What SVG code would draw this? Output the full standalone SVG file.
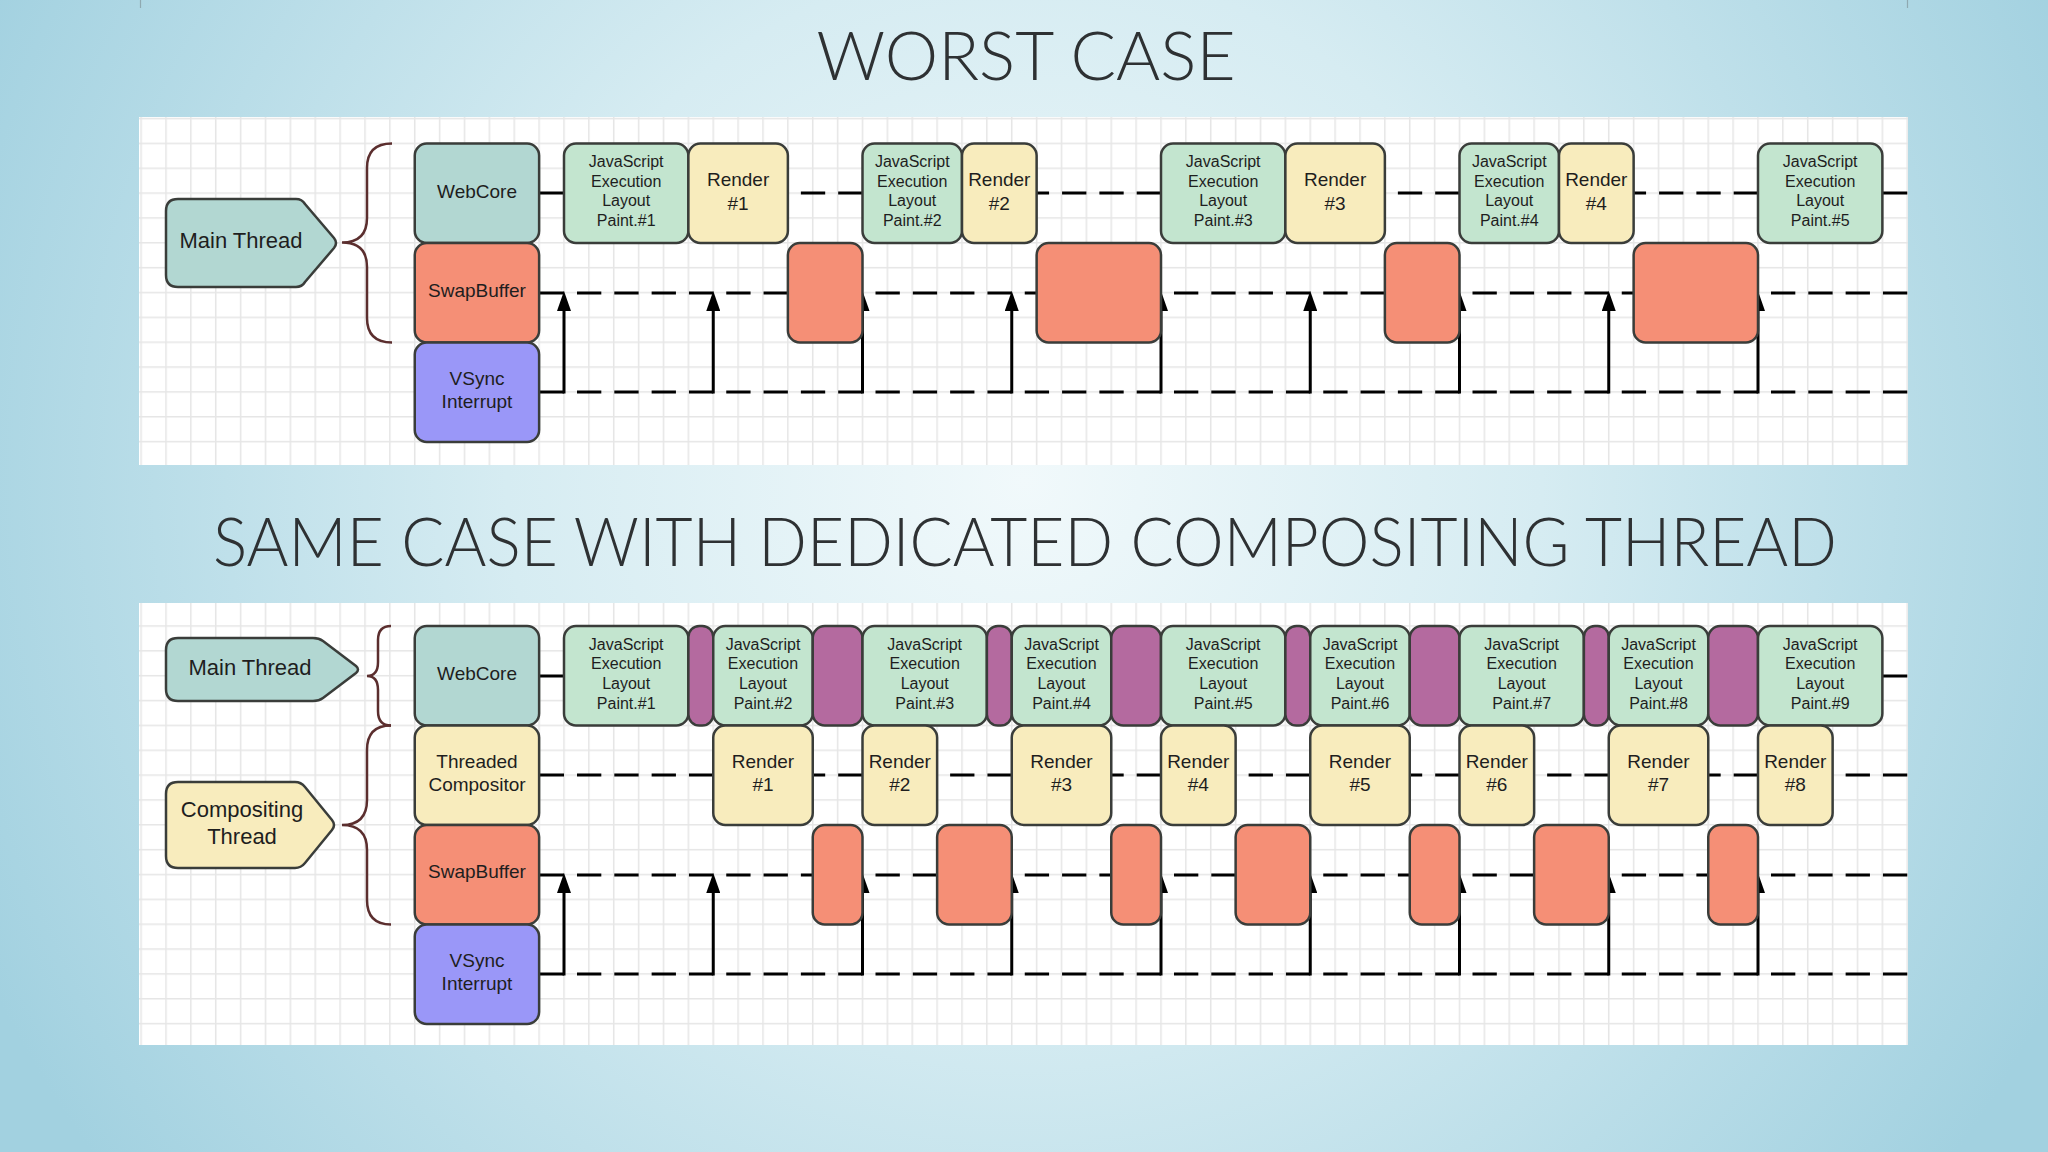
<svg xmlns="http://www.w3.org/2000/svg" width="2048" height="1152" viewBox="0 0 2048 1152">
<defs>
<radialGradient id="bg" gradientUnits="userSpaceOnUse" cx="1024" cy="480" r="1150">
<stop offset="0" stop-color="#f1f9fb"/>
<stop offset="0.45" stop-color="#d6ecf2"/>
<stop offset="1" stop-color="#a2d1e0"/>
</radialGradient>
<pattern id="gridTop" patternUnits="userSpaceOnUse" x="140.35" y="117.8" width="24.875" height="24.85">
<rect x="0" y="0" width="1.5" height="24.85" fill="#e6e6e6"/>
<rect x="0" y="0" width="24.875" height="1.5" fill="#e6e6e6"/>
</pattern>
<pattern id="gridBot" patternUnits="userSpaceOnUse" x="140.35" y="625.25" width="24.875" height="24.85">
<rect x="0" y="0" width="1.5" height="24.85" fill="#e6e6e6"/>
<rect x="0" y="0" width="24.875" height="1.5" fill="#e6e6e6"/>
</pattern>
<marker id="ah" markerUnits="userSpaceOnUse" markerWidth="20" markerHeight="14" refX="0" refY="7" orient="auto" viewBox="0 0 20 14">
<path d="M0,0 L20,7 L0,14 Z" fill="#000"/>
</marker>
<style>
.title{font-family:"Lato","Open Sans","Liberation Sans",sans-serif;font-weight:300;font-size:67px;fill:#2e3133;text-anchor:middle}
.lbl{font-family:"Liberation Sans",Arial,sans-serif;fill:#1e1e1e;text-anchor:middle}
.s16{font-size:16px}
.s19{font-size:19px}
.s22{font-size:22px}
.box{stroke:#3a3d3a;stroke-width:2.5}
.teal{fill:#b2d7d2}
.mint{fill:#c3e5cf}
.cream{fill:#f8ecbd}
.salmon{fill:#f58f76}
.violet{fill:#9a97f8}
.plum{fill:#b46a9f}
.brace{fill:none;stroke:#5b2e2e;stroke-width:2.5}
.dash{fill:none;stroke:#000;stroke-width:3;stroke-dasharray:24.3125 13;stroke-dashoffset:24.3125}
.solid{fill:none;stroke:#000;stroke-width:3}
.arrow{fill:none;stroke:#000;stroke-width:3;marker-end:url(#ah)}
</style>
</defs>

<rect x="0" y="0" width="2048" height="1152" fill="url(#bg)"/>
<path d="M140.5,0 V8 M1907.5,0 V8" stroke="#8fa9b1" stroke-width="1.2" fill="none"/>

<text class="title" x="1026" y="80" textLength="419" lengthAdjust="spacingAndGlyphs">WORST CASE</text>
<text class="title" x="1025" y="566" textLength="1624" lengthAdjust="spacingAndGlyphs">SAME CASE WITH DEDICATED COMPOSITING THREAD</text>

<!-- panels -->
<rect x="139" y="117" width="1769" height="348" fill="#fff"/>
<rect x="139" y="117" width="1769" height="348" fill="url(#gridTop)"/>
<rect x="139" y="603" width="1769" height="442" fill="#fff"/>
<rect x="139" y="603" width="1769" height="442" fill="url(#gridBot)"/>

<!-- ================= connectors ================= -->
<g id="connectors">
<!-- top panel -->
<path class="solid" d="M539,193 H564"/>
<path class="dash" d="M564,193 H1908"/>
<path class="solid" d="M539,293 H564"/>
<path class="dash" d="M564,293 H1908"/>
<path class="solid" d="M539,392 H564"/>
<path class="dash" d="M564,392 H1908"/>
<path class="arrow" d="M564,393.5 V311"/>
<path class="arrow" d="M713.25,393.5 V311"/>
<path class="arrow" d="M862.5,393.5 V311"/>
<path class="arrow" d="M1011.75,393.5 V311"/>
<path class="arrow" d="M1161,393.5 V311"/>
<path class="arrow" d="M1310.25,393.5 V311"/>
<path class="arrow" d="M1459.5,393.5 V311"/>
<path class="arrow" d="M1608.75,393.5 V311"/>
<path class="arrow" d="M1758,393.5 V311"/>
<!-- bottom panel -->
<path class="solid" d="M539,676 H564"/>
<path class="dash" d="M564,676 H1908"/>
<path class="solid" d="M539,775 H564"/>
<path class="dash" d="M564,775 H1908"/>
<path class="solid" d="M539,875 H564"/>
<path class="dash" d="M564,875 H1908"/>
<path class="solid" d="M539,974 H564"/>
<path class="dash" d="M564,974 H1908"/>
<path class="arrow" d="M564,975.5 V893"/>
<path class="arrow" d="M713.25,975.5 V893"/>
<path class="arrow" d="M862.5,975.5 V893"/>
<path class="arrow" d="M1011.75,975.5 V893"/>
<path class="arrow" d="M1161,975.5 V893"/>
<path class="arrow" d="M1310.25,975.5 V893"/>
<path class="arrow" d="M1459.5,975.5 V893"/>
<path class="arrow" d="M1608.75,975.5 V893"/>
<path class="arrow" d="M1758,975.5 V893"/>
</g>

<!-- braces -->
<path class="brace" d="M392,143.5 Q367,143.5 367,168 V218 Q367,242.5 342,242.5 Q367,242.5 367,267 V318 Q367,342.5 392,342.5"/>
<path class="brace" d="M391,626 Q378,626 378,640 V662 Q378,676 367,676 Q378,676 378,690 V711 Q378,725.5 391,725.5"/>
<path class="brace" d="M391,725.5 Q367,725.5 367,750 V800 Q367,825 342,825 Q367,825 367,850 V900 Q367,924.5 391,924.5"/>

<!-- ================= TOP PANEL NODES ================= -->
<g id="top-main-thread">
<path class="box teal" d="M178,199 H296 Q302,199 305,204 L334,238 Q338,243 334,248 L305,282 Q302,287 296,287 H178 Q166,287 166,275 V211 Q166,199 178,199 Z"/>
<text class="lbl s22" x="241" y="248">Main Thread</text>
</g>
<g id="top-webcore">
<rect class="box teal" x="414.75" y="143.5" width="124.375" height="99.5" rx="12"/>
<text class="lbl s19" x="477" y="197.5">WebCore</text>
</g>
<g id="top-swapbuffer">
<rect class="box salmon" x="414.75" y="243" width="124.375" height="99.5" rx="12"/>
<text class="lbl s19" x="477" y="297">SwapBuffer</text>
</g>
<g id="top-vsync">
<rect class="box violet" x="414.75" y="342.5" width="124.375" height="99.5" rx="12"/>
<text class="lbl s19" x="477" y="385">VSync</text>
<text class="lbl s19" x="477" y="408">Interrupt</text>
</g>

<g id="top-js1">
<rect class="box mint" x="564" y="143.5" width="124.375" height="99.5" rx="12"/>
<text class="lbl s16" x="626.2" y="166.8">JavaScript</text>
<text class="lbl s16" x="626.2" y="186.5">Execution</text>
<text class="lbl s16" x="626.2" y="206.2">Layout</text>
<text class="lbl s16" x="626.2" y="225.9">Paint.#1</text>
</g>
<g id="top-render1">
<rect class="box cream" x="688.375" y="143.5" width="99.5" height="99.5" rx="12"/>
<text class="lbl s19" x="738.1" y="186">Render</text>
<text class="lbl s19" x="738.1" y="209.5">#1</text>
</g>
<g id="top-swap1"><rect class="box salmon" x="787.875" y="243" width="74.625" height="99.5" rx="12"/></g>
<g id="top-js2">
<rect class="box mint" x="862.5" y="143.5" width="99.5" height="99.5" rx="12"/>
<text class="lbl s16" x="912.25" y="166.8">JavaScript</text>
<text class="lbl s16" x="912.25" y="186.5">Execution</text>
<text class="lbl s16" x="912.25" y="206.2">Layout</text>
<text class="lbl s16" x="912.25" y="225.9">Paint.#2</text>
</g>
<g id="top-render2">
<rect class="box cream" x="962" y="143.5" width="74.625" height="99.5" rx="12"/>
<text class="lbl s19" x="999.3" y="186">Render</text>
<text class="lbl s19" x="999.3" y="209.5">#2</text>
</g>
<g id="top-swap2"><rect class="box salmon" x="1036.625" y="243" width="124.375" height="99.5" rx="12"/></g>
<g id="top-js3">
<rect class="box mint" x="1161" y="143.5" width="124.375" height="99.5" rx="12"/>
<text class="lbl s16" x="1223.2" y="166.8">JavaScript</text>
<text class="lbl s16" x="1223.2" y="186.5">Execution</text>
<text class="lbl s16" x="1223.2" y="206.2">Layout</text>
<text class="lbl s16" x="1223.2" y="225.9">Paint.#3</text>
</g>
<g id="top-render3">
<rect class="box cream" x="1285.375" y="143.5" width="99.5" height="99.5" rx="12"/>
<text class="lbl s19" x="1335.1" y="186">Render</text>
<text class="lbl s19" x="1335.1" y="209.5">#3</text>
</g>
<g id="top-swap3"><rect class="box salmon" x="1384.875" y="243" width="74.625" height="99.5" rx="12"/></g>
<g id="top-js4">
<rect class="box mint" x="1459.5" y="143.5" width="99.5" height="99.5" rx="12"/>
<text class="lbl s16" x="1509.25" y="166.8">JavaScript</text>
<text class="lbl s16" x="1509.25" y="186.5">Execution</text>
<text class="lbl s16" x="1509.25" y="206.2">Layout</text>
<text class="lbl s16" x="1509.25" y="225.9">Paint.#4</text>
</g>
<g id="top-render4">
<rect class="box cream" x="1559" y="143.5" width="74.625" height="99.5" rx="12"/>
<text class="lbl s19" x="1596.3" y="186">Render</text>
<text class="lbl s19" x="1596.3" y="209.5">#4</text>
</g>
<g id="top-swap4"><rect class="box salmon" x="1633.625" y="243" width="124.375" height="99.5" rx="12"/></g>
<g id="top-js5">
<rect class="box mint" x="1758" y="143.5" width="124.375" height="99.5" rx="12"/>
<text class="lbl s16" x="1820.2" y="166.8">JavaScript</text>
<text class="lbl s16" x="1820.2" y="186.5">Execution</text>
<text class="lbl s16" x="1820.2" y="206.2">Layout</text>
<text class="lbl s16" x="1820.2" y="225.9">Paint.#5</text>
</g>

<!-- ================= BOTTOM PANEL NODES ================= -->
<g id="bot-main-thread">
<path class="box teal" d="M178,638 H313 Q319,638 323,641 L356,666 Q360,669.5 356,673 L323,698 Q319,701 313,701 H178 Q166,701 166,689 V650 Q166,638 178,638 Z"/>
<text class="lbl s22" x="250" y="675">Main Thread</text>
</g>
<g id="bot-compositing-thread">
<path class="box cream" d="M178,782 H295 Q301,782 305,787 L332,820 Q336,825 332,830 L305,863 Q301,868 295,868 H178 Q166,868 166,856 V794 Q166,782 178,782 Z"/>
<text class="lbl s22" x="242" y="817">Compositing</text>
<text class="lbl s22" x="242" y="844">Thread</text>
</g>
<g id="bot-webcore">
<rect class="box teal" x="414.75" y="626" width="124.375" height="99.5" rx="12"/>
<text class="lbl s19" x="477" y="680">WebCore</text>
</g>
<g id="bot-threaded-compositor">
<rect class="box cream" x="414.75" y="725.5" width="124.375" height="99.5" rx="12"/>
<text class="lbl s19" x="477" y="768">Threaded</text>
<text class="lbl s19" x="477" y="791">Compositor</text>
</g>
<g id="bot-swapbuffer">
<rect class="box salmon" x="414.75" y="825" width="124.375" height="99.5" rx="12"/>
<text class="lbl s19" x="477" y="878">SwapBuffer</text>
</g>
<g id="bot-vsync">
<rect class="box violet" x="414.75" y="924.5" width="124.375" height="99.5" rx="12"/>
<text class="lbl s19" x="477" y="967">VSync</text>
<text class="lbl s19" x="477" y="990">Interrupt</text>
</g>

<!-- main thread row -->
<g id="bot-js1">
<rect class="box mint" x="564" y="626" width="124.375" height="99.5" rx="12"/>
<text class="lbl s16" x="626.2" y="649.5">JavaScript</text>
<text class="lbl s16" x="626.2" y="669.2">Execution</text>
<text class="lbl s16" x="626.2" y="688.9">Layout</text>
<text class="lbl s16" x="626.2" y="708.6">Paint.#1</text>
</g>
<g id="bot-idle1"><rect class="box plum" x="688.375" y="626" width="24.875" height="99.5" rx="11"/></g>
<g id="bot-js2">
<rect class="box mint" x="713.25" y="626" width="99.5" height="99.5" rx="12"/>
<text class="lbl s16" x="763" y="649.5">JavaScript</text>
<text class="lbl s16" x="763" y="669.2">Execution</text>
<text class="lbl s16" x="763" y="688.9">Layout</text>
<text class="lbl s16" x="763" y="708.6">Paint.#2</text>
</g>
<g id="bot-idle2"><rect class="box plum" x="812.75" y="626" width="49.75" height="99.5" rx="12"/></g>
<g id="bot-js3">
<rect class="box mint" x="862.5" y="626" width="124.375" height="99.5" rx="12"/>
<text class="lbl s16" x="924.7" y="649.5">JavaScript</text>
<text class="lbl s16" x="924.7" y="669.2">Execution</text>
<text class="lbl s16" x="924.7" y="688.9">Layout</text>
<text class="lbl s16" x="924.7" y="708.6">Paint.#3</text>
</g>
<g id="bot-idle3"><rect class="box plum" x="986.875" y="626" width="24.875" height="99.5" rx="11"/></g>
<g id="bot-js4">
<rect class="box mint" x="1011.75" y="626" width="99.5" height="99.5" rx="12"/>
<text class="lbl s16" x="1061.5" y="649.5">JavaScript</text>
<text class="lbl s16" x="1061.5" y="669.2">Execution</text>
<text class="lbl s16" x="1061.5" y="688.9">Layout</text>
<text class="lbl s16" x="1061.5" y="708.6">Paint.#4</text>
</g>
<g id="bot-idle4"><rect class="box plum" x="1111.25" y="626" width="49.75" height="99.5" rx="12"/></g>
<g id="bot-js5">
<rect class="box mint" x="1161" y="626" width="124.375" height="99.5" rx="12"/>
<text class="lbl s16" x="1223.2" y="649.5">JavaScript</text>
<text class="lbl s16" x="1223.2" y="669.2">Execution</text>
<text class="lbl s16" x="1223.2" y="688.9">Layout</text>
<text class="lbl s16" x="1223.2" y="708.6">Paint.#5</text>
</g>
<g id="bot-idle5"><rect class="box plum" x="1285.375" y="626" width="24.875" height="99.5" rx="11"/></g>
<g id="bot-js6">
<rect class="box mint" x="1310.25" y="626" width="99.5" height="99.5" rx="12"/>
<text class="lbl s16" x="1360" y="649.5">JavaScript</text>
<text class="lbl s16" x="1360" y="669.2">Execution</text>
<text class="lbl s16" x="1360" y="688.9">Layout</text>
<text class="lbl s16" x="1360" y="708.6">Paint.#6</text>
</g>
<g id="bot-idle6"><rect class="box plum" x="1409.75" y="626" width="49.75" height="99.5" rx="12"/></g>
<g id="bot-js7">
<rect class="box mint" x="1459.5" y="626" width="124.375" height="99.5" rx="12"/>
<text class="lbl s16" x="1521.7" y="649.5">JavaScript</text>
<text class="lbl s16" x="1521.7" y="669.2">Execution</text>
<text class="lbl s16" x="1521.7" y="688.9">Layout</text>
<text class="lbl s16" x="1521.7" y="708.6">Paint.#7</text>
</g>
<g id="bot-idle7"><rect class="box plum" x="1583.875" y="626" width="24.875" height="99.5" rx="11"/></g>
<g id="bot-js8">
<rect class="box mint" x="1608.75" y="626" width="99.5" height="99.5" rx="12"/>
<text class="lbl s16" x="1658.5" y="649.5">JavaScript</text>
<text class="lbl s16" x="1658.5" y="669.2">Execution</text>
<text class="lbl s16" x="1658.5" y="688.9">Layout</text>
<text class="lbl s16" x="1658.5" y="708.6">Paint.#8</text>
</g>
<g id="bot-idle8"><rect class="box plum" x="1708.25" y="626" width="49.75" height="99.5" rx="12"/></g>
<g id="bot-js9">
<rect class="box mint" x="1758" y="626" width="124.375" height="99.5" rx="12"/>
<text class="lbl s16" x="1820.2" y="649.5">JavaScript</text>
<text class="lbl s16" x="1820.2" y="669.2">Execution</text>
<text class="lbl s16" x="1820.2" y="688.9">Layout</text>
<text class="lbl s16" x="1820.2" y="708.6">Paint.#9</text>
</g>

<!-- compositor row -->
<g id="bot-render1">
<rect class="box cream" x="713.25" y="725.5" width="99.5" height="99.5" rx="12"/>
<text class="lbl s19" x="763" y="767.5">Render</text>
<text class="lbl s19" x="763" y="791">#1</text>
</g>
<g id="bot-render2">
<rect class="box cream" x="862.5" y="725.5" width="74.625" height="99.5" rx="12"/>
<text class="lbl s19" x="899.8" y="767.5">Render</text>
<text class="lbl s19" x="899.8" y="791">#2</text>
</g>
<g id="bot-render3">
<rect class="box cream" x="1011.75" y="725.5" width="99.5" height="99.5" rx="12"/>
<text class="lbl s19" x="1061.5" y="767.5">Render</text>
<text class="lbl s19" x="1061.5" y="791">#3</text>
</g>
<g id="bot-render4">
<rect class="box cream" x="1161" y="725.5" width="74.625" height="99.5" rx="12"/>
<text class="lbl s19" x="1198.3" y="767.5">Render</text>
<text class="lbl s19" x="1198.3" y="791">#4</text>
</g>
<g id="bot-render5">
<rect class="box cream" x="1310.25" y="725.5" width="99.5" height="99.5" rx="12"/>
<text class="lbl s19" x="1360" y="767.5">Render</text>
<text class="lbl s19" x="1360" y="791">#5</text>
</g>
<g id="bot-render6">
<rect class="box cream" x="1459.5" y="725.5" width="74.625" height="99.5" rx="12"/>
<text class="lbl s19" x="1496.8" y="767.5">Render</text>
<text class="lbl s19" x="1496.8" y="791">#6</text>
</g>
<g id="bot-render7">
<rect class="box cream" x="1608.75" y="725.5" width="99.5" height="99.5" rx="12"/>
<text class="lbl s19" x="1658.5" y="767.5">Render</text>
<text class="lbl s19" x="1658.5" y="791">#7</text>
</g>
<g id="bot-render8">
<rect class="box cream" x="1758" y="725.5" width="74.625" height="99.5" rx="12"/>
<text class="lbl s19" x="1795.3" y="767.5">Render</text>
<text class="lbl s19" x="1795.3" y="791">#8</text>
</g>

<!-- swap row -->
<g id="bot-swap1"><rect class="box salmon" x="812.75" y="825" width="49.75" height="99.5" rx="12"/></g>
<g id="bot-swap2"><rect class="box salmon" x="937.125" y="825" width="74.625" height="99.5" rx="12"/></g>
<g id="bot-swap3"><rect class="box salmon" x="1111.25" y="825" width="49.75" height="99.5" rx="12"/></g>
<g id="bot-swap4"><rect class="box salmon" x="1235.625" y="825" width="74.625" height="99.5" rx="12"/></g>
<g id="bot-swap5"><rect class="box salmon" x="1409.75" y="825" width="49.75" height="99.5" rx="12"/></g>
<g id="bot-swap6"><rect class="box salmon" x="1534.125" y="825" width="74.625" height="99.5" rx="12"/></g>
<g id="bot-swap7"><rect class="box salmon" x="1708.25" y="825" width="49.75" height="99.5" rx="12"/></g>
</svg>
